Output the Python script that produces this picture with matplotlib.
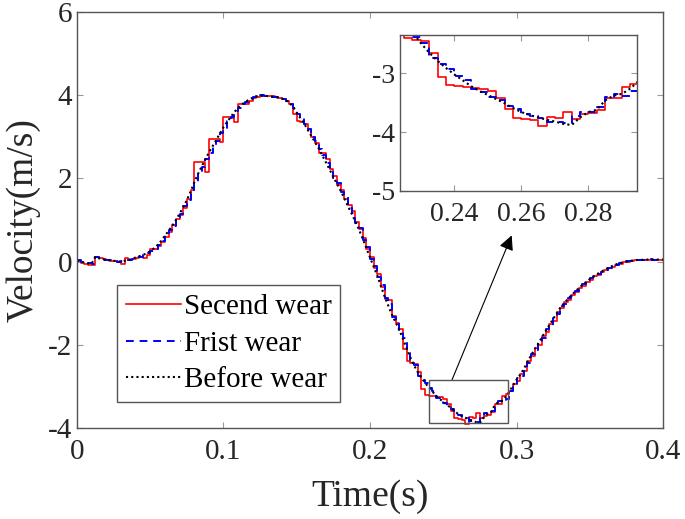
# Velocity curves for three wear states, with a zoomed inset near the minimum
import numpy as np
import matplotlib
matplotlib.use("Agg")
import matplotlib.pyplot as plt
from matplotlib.patches import Rectangle

plt.rcParams['font.family'] = ['Liberation Serif', 'DejaVu Serif']
plt.rcParams['axes.unicode_minus'] = False

# %%
# Data (sample step 0.0025 s)
dt = 0.0025
time = np.arange(161) * dt

before_wear = [
    0.02, 0.00, -0.02, -0.04, -0.05, 0.12, 0.08, 0.06, 0.04, 0.03,
    0.02, 0.01, 0.00, 0.02, 0.04, 0.07, 0.10, 0.13, 0.16, 0.20,
    0.25, 0.32, 0.40, 0.50, 0.62, 0.74, 0.86, 1.00, 1.15, 1.31,
    1.48, 1.68, 1.90, 2.10, 2.28, 2.45, 2.62, 2.77, 2.92, 3.08,
    3.23, 3.36, 3.48, 3.60, 3.70, 3.78, 3.84, 3.90, 3.94, 3.97,
    3.99, 3.99, 3.98, 3.97, 3.96, 3.94, 3.92, 3.88, 3.82, 3.72,
    3.58, 3.45, 3.32, 3.17, 3.02, 2.87, 2.72, 2.55, 2.38, 2.21,
    2.03, 1.87, 1.70, 1.52, 1.33, 1.15, 0.97, 0.77, 0.55, 0.33,
    0.10, -0.12, -0.34, -0.59, -0.84, -1.06, -1.28, -1.46, -1.64, -1.86,
    -2.08, -2.30, -2.49, -2.65, -2.79, -2.91, -3.02, -3.12, -3.22, -3.30,
    -3.37, -3.44, -3.51, -3.59, -3.66, -3.71, -3.75, -3.79, -3.82, -3.86,
    -3.88, -3.75, -3.66, -3.62, -3.46, -3.38, -3.35, -3.26, -3.13, -2.98,
    -2.84, -2.72, -2.58, -2.41, -2.25, -2.10, -1.96, -1.81, -1.66, -1.52,
    -1.38, -1.24, -1.10, -1.00, -0.90, -0.81, -0.72, -0.64, -0.56, -0.49,
    -0.42, -0.36, -0.30, -0.25, -0.20, -0.15, -0.11, -0.07, -0.04, -0.02,
    0.00, 0.02, 0.03, 0.04, 0.04, 0.05, 0.05, 0.05, 0.05, 0.05,
    0.05,
]

first_wear = [
    0.03, 0.00, -0.02, -0.03, -0.05, 0.10, 0.08, 0.05, 0.04, 0.03,
    0.02, 0.00, 0.01, 0.02, 0.05, 0.07, 0.11, 0.12, 0.17, 0.21,
    0.26, 0.31, 0.41, 0.50, 0.63, 0.75, 0.85, 1.02, 1.14, 1.33,
    1.47, 1.70, 1.88, 2.12, 2.27, 2.47, 2.60, 2.79, 2.91, 3.10,
    3.22, 3.38, 3.47, 3.62, 3.69, 3.80, 3.83, 3.92, 3.95, 4.02,
    4.00, 3.98, 3.98, 3.96, 3.96, 3.93, 3.91, 3.86, 3.80, 3.70,
    3.56, 3.47, 3.30, 3.19, 3.00, 2.90, 2.70, 2.57, 2.36, 2.24,
    2.01, 1.90, 1.68, 1.55, 1.30, 1.18, 0.94, 0.80, 0.52, 0.36,
    0.07, -0.10, -0.37, -0.55, -0.88, -1.02, -1.32, -1.42, -1.68, -1.84,
    -2.20, -2.38, -2.48, -2.74, -2.84, -2.92, -3.04, -3.12, -3.27, -3.32,
    -3.40, -3.46, -3.55, -3.60, -3.69, -3.73, -3.76, -3.82, -3.82, -3.85,
    -3.72, -3.65, -3.66, -3.58, -3.40, -3.35, -3.38, -3.30, -3.10, -2.99,
    -2.80, -2.74, -2.55, -2.44, -2.22, -2.12, -1.93, -1.84, -1.62, -1.55,
    -1.35, -1.27, -1.07, -1.02, -0.88, -0.83, -0.70, -0.66, -0.54, -0.50,
    -0.40, -0.37, -0.29, -0.26, -0.19, -0.16, -0.10, -0.08, -0.03, -0.02,
    0.01, 0.02, 0.04, 0.04, 0.05, 0.05, 0.06, 0.05, 0.05, 0.05,
    0.05,
]

second_wear = [
    0.02, -0.03, -0.06, -0.08, -0.09, 0.10, 0.08, 0.06, 0.04, 0.02,
    0.01, -0.02, -0.05, 0.08, 0.05, 0.06, 0.09, 0.10, 0.09, 0.15,
    0.30, 0.30, 0.38, 0.48, 0.60, 0.72, 0.88, 1.02, 1.13, 1.30,
    1.50, 1.72, 2.40, 2.40, 2.40, 2.15, 2.95, 2.95, 2.95, 2.88,
    3.47, 3.47, 3.45, 3.36, 3.80, 3.80, 3.80, 3.86, 3.93, 3.96,
    3.98, 3.99, 3.98, 3.97, 3.95, 3.94, 3.90, 3.86, 3.80, 3.55,
    3.38, 3.36, 3.30, 3.18, 3.00, 2.85, 2.62, 2.62, 2.47, 2.22,
    2.05, 1.85, 1.72, 1.50, 1.36, 1.22, 0.95, 0.78, 0.58, 0.30,
    0.12, -0.15, -0.30, -0.62, -0.90, -0.92, -1.30, -1.48, -1.62, -2.10,
    -2.40, -2.44, -2.46, -2.66, -3.06, -3.20, -3.22, -3.24, -3.25, -3.26,
    -3.30, -3.42, -3.60, -3.76, -3.78, -3.80, -3.90, -3.74, -3.76, -3.65,
    -3.77, -3.70, -3.68, -3.62, -3.42, -3.42, -3.23, -3.18, -3.10, -2.95,
    -2.88, -2.70, -2.62, -2.38, -2.28, -2.08, -2.00, -1.78, -1.70, -1.50,
    -1.42, -1.22, -1.12, -0.98, -0.93, -0.80, -0.74, -0.63, -0.58, -0.48,
    -0.44, -0.35, -0.31, -0.24, -0.21, -0.15, -0.12, -0.07, -0.05, -0.02,
    -0.01, 0.02, 0.03, 0.04, 0.04, 0.05, 0.05, 0.05, 0.05, 0.05,
    0.05,
]

labels = ['Secend wear', 'Frist wear', 'Before wear']
x_ticks = [0, 0.1, 0.2, 0.3, 0.4]
x_tick_labels = ['0', '0.1', '0.2', '0.3', '0.4']
y_ticks = [-4, -2, 0, 2, 4, 6]
inset_x_ticks = [0.24, 0.26, 0.28]
inset_y_ticks = [-5, -4, -3]

# zoom box and arrow (data coords)
box_x, box_y, box_w, box_h = 0.24, -3.87, 0.054, 1.03
arrow_from = (0.256, -2.84)
arrow_to = (0.2967, 0.63)

edge_col = '#555555'
text_col = '#262626'


def draw_curves(ax):
    ax.plot(time, second_wear, color='red', lw=1.2, drawstyle='steps-post', label=labels[0])
    ax.plot(time, first_wear, color='blue', lw=1.4, ls=(0, (4, 3)), drawstyle='steps-post', label=labels[1])
    ax.plot(time, before_wear, color='black', lw=1.5, ls=(0, (1, 1.5)), label=labels[2])


def style_axes(ax, size):
    for s in ax.spines.values():
        s.set_color(edge_col)
        s.set_linewidth(1.0)
    ax.tick_params(direction='in', length=4, width=0.8, colors='#999999',
                   labelcolor=text_col, labelsize=size, top=True, right=True)


# %%
fig = plt.figure(figsize=(6.85, 5.19), dpi=100)
ax = fig.add_axes([0.1124, 0.1753, 0.8555, 0.8015])
draw_curves(ax)
ax.set_xlim(0, 0.4)
ax.set_ylim(-4, 6)
ax.set_xticks(x_ticks)
ax.set_xticklabels(x_tick_labels)
ax.set_yticks(y_ticks)
style_axes(ax, 21)
ax.tick_params(axis='x', pad=8)
ax.set_xlabel('Time(s)', fontsize=27, color=text_col, labelpad=10)
ax.set_ylabel('Velocity(m/s)', fontsize=27, color=text_col, labelpad=5)

ax.add_patch(Rectangle((box_x, box_y), box_w, box_h, fill=False, edgecolor=edge_col, lw=1.0, zorder=5))
ax.annotate('', xy=arrow_to, xytext=arrow_from,
            arrowprops=dict(arrowstyle='-|>', color='black', lw=0.8, mutation_scale=22,
                            shrinkA=0, shrinkB=0))

leg = ax.legend(loc='lower left', bbox_to_anchor=(0.068, 0.062), borderaxespad=0,
                fontsize=21, frameon=True, fancybox=False, framealpha=1,
                edgecolor=edge_col, handlelength=1.9, handletextpad=0.1,
                labelspacing=0.35, borderpad=0.3)
leg.get_frame().set_linewidth(1.0)

# %%
# Inset
axi = fig.add_axes([0.584, 0.632, 0.346, 0.3006])
draw_curves(axi)
axi.set_xlim(0.2238, 0.2945)
axi.set_ylim(-5, -2.35)
axi.set_xticks(inset_x_ticks)
axi.set_xticklabels(['0.24', '0.26', '0.28'])
axi.set_yticks(inset_y_ticks)
style_axes(axi, 20)
axi.tick_params(axis='x', pad=8)

fig.savefig('out.png', dpi=100)
